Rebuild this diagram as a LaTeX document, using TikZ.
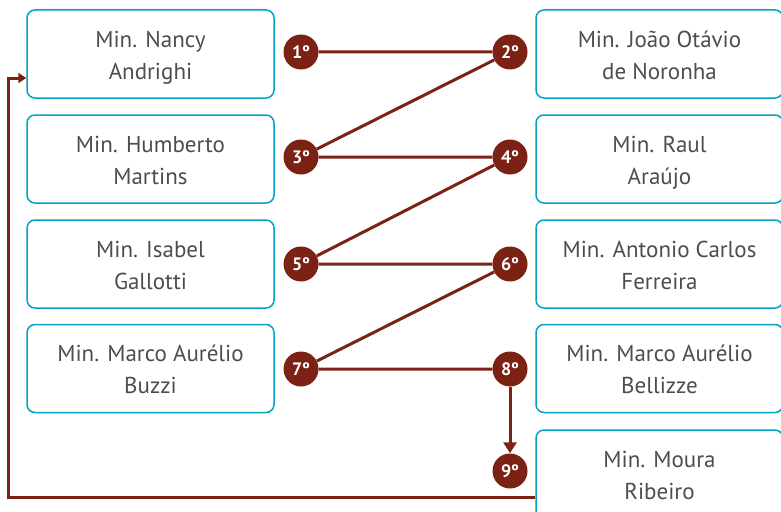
\documentclass[tikz,border=0pt]{standalone}
\usepackage{fontspec}
\setmainfont{PT Sans}
\usepackage{tikz}
\usetikzlibrary{arrows,arrows.meta,calc,positioning}
\definecolor{boxcyan}{RGB}{0,163,196}
\definecolor{rankred}{RGB}{123,34,20}
\definecolor{textgray}{RGB}{77,77,77}
\tikzset{
    minbox/.style = {draw=boxcyan, rounded corners=8pt, line width=1.5pt, minimum width=247pt, minimum height=88pt, align=center, text=textgray, text height=54pt, text depth=4pt, font=\fontsize{23}{32}\selectfont},
    rank/.style = {circle, fill=rankred, text=white, minimum size=35pt, inner sep=0pt, font=\bfseries\fontsize{18}{18}\selectfont},
    link/.style = {draw=rankred, line width=3pt},
}
\begin{document}
\begin{tikzpicture}[x=1pt, y=-1pt, >={Triangle[length=11pt,width=13pt]}]
    \clip (0,0) rectangle (781,511);
    % left column
    \node [minbox] (nancy) at (150.5,54) {Min. Nancy\\Andrighi};
    \node [minbox] (humberto) at (150.5,159) {Min. Humberto\\Martins};
    \node [minbox] (isabel) at (150.5,264) {Min. Isabel\\Gallotti};
    \node [minbox] (buzzi) at (150.5,368.5) {Min. Marco Aurélio\\Buzzi};
    % right column
    \node [minbox] (joao) at (659.5,54) {Min. João Otávio\\de Noronha};
    \node [minbox] (raul) at (659.5,159) {Min. Raul\\Araújo};
    \node [minbox] (antonio) at (659.5,264) {Min. Antonio Carlos\\Ferreira};
    \node [minbox] (bellizze) at (659.5,368.5) {Min. Marco Aurélio\\Bellizze};
    \node [minbox] (moura) at (659.5,474) {Min. Moura\\Ribeiro};
    % ranks
    \node [rank] (r1) at (301,52) {1º};
    \node [rank] (r3) at (301,157) {3º};
    \node [rank] (r5) at (301,264) {5º};
    \node [rank] (r7) at (301,369) {7º};
    \node [rank] (r2) at (510,52) {2º};
    \node [rank] (r4) at (510,157) {4º};
    \node [rank] (r6) at (510,264) {6º};
    \node [rank] (r8) at (510,369) {8º};
    \node [rank] (r9) at (510,471) {9º};
    \coordinate (turn) at (8,78);
    \draw [link] (r1) -- (r2) -- (r3) -- (r4) -- (r5) -- (r6) -- (r7) -- (r8);
    \draw [link,->] (r8) -- (r9);
    \draw [link,-{Triangle[length=8pt,width=10pt]}] ([yshift=-23pt]moura.west) -| (turn) -- (turn -| nancy.west);
\end{tikzpicture}
\end{document}
